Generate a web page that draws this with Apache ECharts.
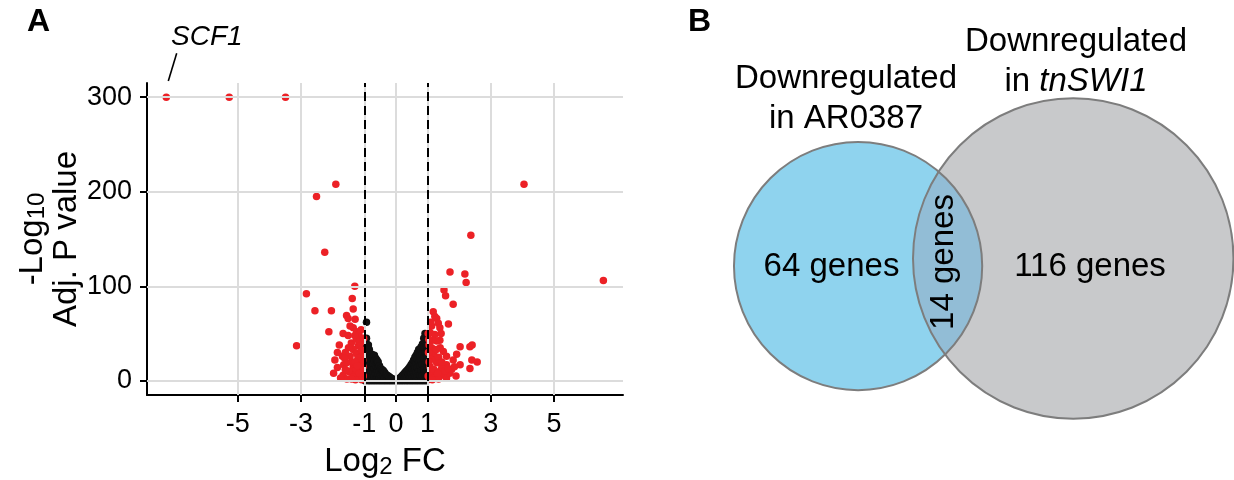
<!DOCTYPE html>
<html><head><meta charset="utf-8">
<script src="https://cdn.jsdelivr.net/npm/echarts@6/dist/echarts.min.js"></script>
<style>html,body{margin:0;padding:0;background:#fff}#c{width:1234px;height:480px}</style>
</head><body><div id="c"></div>
<script>
// ---------- Panel A data ----------
const xTicks = [-5, -3, -1, 0, 1, 3, 5];
const yTicks = [0, 100, 200, 300];
const fcCutoffs = [-1, 1];
const sigGenes = [
  [-7.26,300],[-5.27,300],[-3.49,300],[-1.90,208],[-2.51,195],[-2.25,136],[-1.30,100],[-2.83,92],[-1.38,87],[-1.35,76],
  [-2.56,74],[-2.04,74],[-1.56,69],[-1.51,66],[-1.29,65],[-2.12,52],[-1.35,56],[-1.24,52],[-1.67,50],[-1.51,48],
  [-1.17,49],[-3.14,37],[-1.79,38],[-1.41,40],[-1.19,37],[-1.16,42],[-1.35,33],[-1.69,26],[-1.45,26],[-1.25,29],
  [-1.93,22],[-1.65,17],[-1.35,15],[-1.14,19],[-1.97,8],[-1.67,6],[-1.45,9],[-1.24,8],[-1.14,4],[-1.35,12],
  [-1.09,12],[-1.06,30],[-1.12,40],[-1.05,22],[-1.19,3],[-1.29,6],[-1.35,4],[-1.50,10],[-1.40,20],[-1.56,19],
  [-1.09,26],[-1.25,12],[-1.03,5],[-1.08,1],[-1.28,1],[-1.55,2],[-1.75,3],[-1.60,12],[-1.85,14],[-1.20,24],
  [-1.30,20],[-1.50,35],[-1.60,30],[-1.10,33],[-1.02,45],[-1.45,58],[-1.25,44],[-1.85,30],[-1.04,15],[-1.15,8],
  [-1.40,2],[-1.62,24],[-1.22,16],[-1.10,54],[-1.30,48],
  [4.05,208],[2.37,154],[1.71,115],[2.18,113],[2.22,104],[6.56,106],[1.52,96],[1.57,90],[1.81,81],[1.18,73],
  [1.23,68],[1.29,66],[1.34,61],[1.66,60],[1.39,56],[1.13,58],[1.02,50],[1.08,51],[1.23,49],[1.43,50],
  [1.39,43],[1.29,42],[2.03,36],[2.34,36],[2.41,38],[1.13,35],[1.50,31],[1.92,28],[1.13,26],[1.60,26],
  [1.81,22],[2.40,22],[2.57,20],[2.03,17],[1.60,17],[1.29,19],[1.08,15],[2.34,13],[1.76,12],[1.39,10],
  [1.18,6],[1.50,6],[1.02,5],[1.05,38],[1.10,28],[1.20,30],[1.25,22],[1.35,25],[1.45,14],[1.12,10],
  [1.25,3],[1.35,2],[1.60,3],[1.70,8],[1.05,20],[1.20,12],[1.55,10],[1.90,5],[1.40,35],[1.15,43],
  [1.28,33],[1.06,2],[1.15,1],[1.45,20],[1.65,13],[1.85,15],[1.03,30],[1.10,62],[1.04,44],[1.32,8]
];
const nsGenes = [
  [-0.98,0],[-0.98,5],[-0.98,10],[-0.98,15],[-0.98,20],[-0.98,25],[-0.98,30],[-0.97,35],
  [-0.95,2],[-0.95,12],[-0.95,22],[-0.95,32],[-0.94,40],[-0.93,45],[-0.93,62],
  [-0.92,6],[-0.92,17],[-0.92,27],[-0.91,37],
  [-0.88,0],[-0.88,10],[-0.88,20],[-0.88,30],[-0.87,38],
  [-0.84,4],[-0.84,14],[-0.84,24],[-0.84,33],
  [-0.80,0],[-0.80,9],[-0.80,18],[-0.80,27],
  [-0.76,5],[-0.76,14],[-0.76,22],[-0.76,28],
  [-0.72,0],[-0.72,9],[-0.72,18],[-0.72,26],
  [-0.68,4],[-0.68,13],[-0.68,21],[-0.68,27],
  [-0.64,0],[-0.64,8],[-0.64,16],[-0.64,24],
  [-0.60,3],[-0.60,11],[-0.60,19],[-0.60,22],
  [-0.56,0],[-0.56,7],[-0.56,14],[-0.56,20],
  [-0.52,3],[-0.52,10],[-0.52,16],
  [-0.48,0],[-0.48,6],[-0.48,13],
  [-0.44,3],[-0.44,9],[-0.44,12],
  [-0.40,0],[-0.40,6],[-0.40,11],
  [-0.36,3],[-0.36,9],[-0.32,0],[-0.32,7],[-0.28,2],[-0.28,6],[-0.24,0],[-0.24,5],[-0.20,2],[-0.20,4],
  [-0.16,0],[-0.16,3],[-0.12,1],[-0.12,2.5],[-0.08,0],[-0.08,1.5],[-0.04,0.5],[0,0],
  [0.04,0.5],[0.08,0],[0.08,1.5],[0.12,1],[0.12,3],[0.16,0],[0.16,4],[0.20,2],[0.20,5.5],[0.24,0],[0.24,7],
  [0.28,3],[0.28,8.5],[0.32,0],[0.32,5],[0.32,10],[0.36,3],[0.36,11.5],[0.40,0],[0.40,7],[0.40,13],
  [0.44,4],[0.44,11],[0.44,15],[0.48,0],[0.48,8],[0.48,17],[0.52,4],[0.52,12],[0.52,19],
  [0.56,0],[0.56,9],[0.56,17],[0.56,22],[0.60,5],[0.60,13],[0.60,21],[0.60,25],
  [0.64,0],[0.64,9],[0.64,18],[0.64,27],[0.68,5],[0.68,14],[0.68,23],[0.68,30],
  [0.72,0],[0.72,10],[0.72,20],[0.72,30],[0.72,33],[0.76,6],[0.76,16],[0.76,26],[0.76,34],
  [0.80,0],[0.80,11],[0.80,22],[0.80,32],[0.80,36],[0.84,6],[0.84,17],[0.84,28],[0.84,39],
  [0.88,0],[0.88,12],[0.88,24],[0.88,36],[0.88,45],[0.92,6],[0.92,18],[0.92,30],[0.92,42],[0.92,50],
  [0.96,0],[0.96,10],[0.96,20],[0.96,30],[0.96,38],[0.98,4],[0.98,15],[0.98,26]
];

// ---------- Panel B data ----------
const vennSetNames = ['AR0387', 'tnSWI1'];
const vennOnly = [64, 116];
const vennShared = 14;

// ---------- styling / layout ----------
const FONT = "'Liberation Sans', Arial, Helvetica, sans-serif";
const RED = '#ec2126';
const BLACK = '#111111';
const VENN_ANCHOR = [11.25, 18.93];   // layout position (data units of the hidden Venn axes)
const VENN_TILT = 0.035;              // radians

function lensArea(r1, r2, d) {
  if (d >= r1 + r2) return 0;
  if (d <= Math.abs(r1 - r2)) return Math.PI * Math.min(r1, r2) ** 2;
  const a1 = Math.acos((d*d + r1*r1 - r2*r2) / (2*d*r1));
  const a2 = Math.acos((d*d + r2*r2 - r1*r1) / (2*d*r2));
  const k = Math.sqrt((-d+r1+r2)*(d+r1-r2)*(d-r1+r2)*(d+r1+r2));
  return r1*r1*a1 + r2*r2*a2 - 0.5*k;
}
function solveDistance(r1, r2, target) {
  let lo = Math.abs(r1 - r2), hi = r1 + r2;
  for (let i = 0; i < 80; i++) {
    const mid = (lo + hi) / 2;
    if (lensArea(r1, r2, mid) > target) lo = mid; else hi = mid;
  }
  return (lo + hi) / 2;
}

const chart = echarts.init(document.getElementById('c'), null, {renderer: 'canvas'});

const axisBase = {
  axisLine: {show: true, onZero: false, lineStyle: {color: '#000', width: 2}},
  axisTick: {show: true, length: 7, lineStyle: {color: '#000', width: 2}},
  splitLine: {show: false}
};

const option = {
  animation: false,
  backgroundColor: '#fff',
  grid: [
    {left: 147, top: 83, width: 476, height: 312, containLabel: false, outerBoundsMode: 'none'},
    {left: 700, top: 0, width: 534, height: 480, containLabel: false, outerBoundsMode: 'none'}
  ],
  xAxis: [
    Object.assign({}, axisBase, {
      gridIndex: 0, type: 'value', min: -7.87, max: 7.18,
      axisTick: Object.assign({}, axisBase.axisTick, {customValues: xTicks}),
      axisLabel: {customValues: xTicks, margin: 16, fontSize: 27, fontFamily: FONT, color: '#000'},
      name: '{m|Log}{s|2}{m| FC}', nameLocation: 'middle', nameGap: 50,
      nameTextStyle: {
        color: '#000', fontFamily: FONT, fontSize: 33,
        rich: {
          m: {fontSize: 33, fontFamily: FONT, color: '#000', lineHeight: 34},
          s: {fontSize: 24, fontFamily: FONT, color: '#000', lineHeight: 18, verticalAlign: 'bottom'}
        }
      }
    }),
    {gridIndex: 1, type: 'value', min: 0, max: 38, show: false}
  ],
  yAxis: [
    Object.assign({}, axisBase, {
      gridIndex: 0, type: 'value', min: -15, max: 315,
      axisTick: Object.assign({}, axisBase.axisTick, {customValues: yTicks}),
      axisLabel: {customValues: yTicks, margin: 15, fontSize: 27, fontFamily: FONT, color: '#000'},
      name: '{m|-Log}{s|10}\n{m|Adj. P value}', nameLocation: 'middle', nameGap: 62, nameRotate: 90,
      nameTextStyle: {
        color: '#000', fontFamily: FONT, fontSize: 33, align: 'center',
        rich: {
          m: {fontSize: 33, fontFamily: FONT, color: '#000', lineHeight: 34, align: 'center'},
          s: {fontSize: 24, fontFamily: FONT, color: '#000', lineHeight: 18, verticalAlign: 'bottom', align: 'center'}
        }
      }
    }),
    {gridIndex: 1, type: 'value', min: 0, max: 480 / (534 / 38), inverse: true, show: false}
  ],
  series: [
    { // major grid lines at the tick values
      type: 'scatter', xAxisIndex: 0, yAxisIndex: 0, data: [], z: 1, silent: true,
      markLine: {
        silent: true, symbol: ['none', 'none'], label: {show: false}, animation: false,
        lineStyle: {color: '#dcdcdc', width: 2, type: 'solid'},
        emphasis: {disabled: true},
        data: xTicks.map(v => ({xAxis: v})).concat(yTicks.map(v => ({yAxis: v})))
      }
    },
    { // fold-change cut-offs
      type: 'scatter', xAxisIndex: 0, yAxisIndex: 0, data: [], z: 2, silent: true,
      markLine: {
        silent: true, symbol: ['none', 'none'], label: {show: false}, animation: false,
        lineStyle: {color: '#000', width: 2, type: [9, 5]},
        emphasis: {disabled: true},
        data: fcCutoffs.map(v => ({xAxis: v}))
      }
    },
    {
      name: 'not significant', type: 'scatter', xAxisIndex: 0, yAxisIndex: 0, z: 3,
      data: nsGenes, symbolSize: 7.5, itemStyle: {color: BLACK, opacity: 1}, silent: true
    },
    {
      name: 'significant', type: 'scatter', xAxisIndex: 0, yAxisIndex: 0, z: 4,
      data: sigGenes, symbolSize: 7.5, itemStyle: {color: RED, opacity: 1}, silent: true
    },
    { // Venn diagram, circle areas proportional to gene counts
      type: 'custom', coordinateSystem: 'cartesian2d', xAxisIndex: 1, yAxisIndex: 1,
      data: [[0, 0]], silent: true, clip: false, z: 5,
      renderItem: function (params, api) {
        const totals = vennOnly.map(v => v + vennShared);
        const r = totals.map(t => Math.sqrt(t));
        const d = solveDistance(r[0], r[1], Math.PI * vennShared);
        const c1 = VENN_ANCHOR;
        const c2 = [c1[0] + d * Math.cos(VENN_TILT), c1[1] - d * Math.sin(VENN_TILT)];
        const p1 = api.coord(c1), p2 = api.coord(c2);
        const R1 = api.size([r[0], 0])[0], R2 = api.size([r[1], 0])[0];
        const dx = p2[0] - p1[0], dy = p2[1] - p1[1];
        const D = Math.sqrt(dx*dx + dy*dy);
        const a = (R1*R1 - R2*R2 + D*D) / (2*D);
        const h = Math.sqrt(Math.max(R1*R1 - a*a, 0));
        const mx = p1[0] + a*dx/D, my = p1[1] + a*dy/D;
        const ux = -dy/D, uy = dx/D;
        const iTop = [mx - h*ux, my - h*uy];
        const iBot = [mx + h*ux, my + h*uy];
        const top = iTop[1] < iBot[1] ? iTop : iBot;
        const bot = iTop[1] < iBot[1] ? iBot : iTop;
        const lens = 'M' + top[0] + ' ' + top[1] +
          ' A' + R1 + ' ' + R1 + ' 0 0 1 ' + bot[0] + ' ' + bot[1] +
          ' A' + R2 + ' ' + R2 + ' 0 0 1 ' + top[0] + ' ' + top[1] + ' Z';
        const stroke = '#7d7d7d';
        return {
          type: 'group',
          children: [
            {type: 'circle', shape: {cx: p1[0], cy: p1[1], r: R1}, style: {fill: '#8fd3ee', stroke: 'none'}},
            {type: 'circle', shape: {cx: p2[0], cy: p2[1], r: R2}, style: {fill: '#c8c9cb', stroke: 'none'}},
            {type: 'path', shape: {pathData: lens}, style: {fill: '#92bdd6', stroke: 'none'}},
            {type: 'circle', shape: {cx: p1[0], cy: p1[1], r: R1}, style: {fill: 'none', stroke: stroke, lineWidth: 2}},
            {type: 'circle', shape: {cx: p2[0], cy: p2[1], r: R2}, style: {fill: 'none', stroke: stroke, lineWidth: 2}}
          ]
        };
      }
    }
  ],
  graphic: [
    {type: 'text', x: 27, y: 22, z: 10, style: {text: 'A', fontSize: 32, fontWeight: 'bold', fontFamily: FONT, fill: '#000', textAlign: 'left', textVerticalAlign: 'middle'}},
    {type: 'text', x: 688, y: 22, z: 10, style: {text: 'B', fontSize: 32, fontWeight: 'bold', fontFamily: FONT, fill: '#000', textAlign: 'left', textVerticalAlign: 'middle'}},
    {type: 'text', x: 171, y: 37, z: 10, style: {text: 'SCF1', fontSize: 28, fontStyle: 'italic', fontFamily: FONT, fill: '#000', textAlign: 'left', textVerticalAlign: 'middle'}},
    {type: 'line', z: 10, shape: {x1: 176.7, y1: 53.3, x2: 168.3, y2: 81}, style: {stroke: '#000', lineWidth: 1.6}},
    {type: 'text', x: 846, y: 99, z: 10, style: {text: 'Downregulated\nin ' + vennSetNames[0], fontSize: 33, lineHeight: 40, fontFamily: FONT, fill: '#000', textAlign: 'center', textVerticalAlign: 'middle'}},
    {type: 'text', x: 1076, y: 62, z: 10, style: {
      text: '{a|Downregulated}\n{a|in }{b|' + vennSetNames[1] + '}', textAlign: 'center', textVerticalAlign: 'middle',
      rich: {
        a: {fontSize: 33, lineHeight: 40, fontFamily: FONT, fill: '#000', color: '#000'},
        b: {fontSize: 33, lineHeight: 40, fontFamily: FONT, fontStyle: 'italic', fill: '#000', color: '#000'}
      }}},
    {type: 'text', x: 831.5, y: 267, z: 10, style: {text: vennOnly[0] + ' genes', fontSize: 33, fontFamily: FONT, fill: '#000', textAlign: 'center', textVerticalAlign: 'middle'}},
    {type: 'text', x: 1090, y: 267, z: 10, style: {text: vennOnly[1] + ' genes', fontSize: 33, fontFamily: FONT, fill: '#000', textAlign: 'center', textVerticalAlign: 'middle'}},
    {type: 'text', x: 944, y: 262, z: 10, rotation: Math.PI / 2, style: {text: vennShared + ' genes', fontSize: 33, fontFamily: FONT, fill: '#000', textAlign: 'center', textVerticalAlign: 'middle'}}
  ]
};
chart.setOption(option);
</script>
</body></html>
